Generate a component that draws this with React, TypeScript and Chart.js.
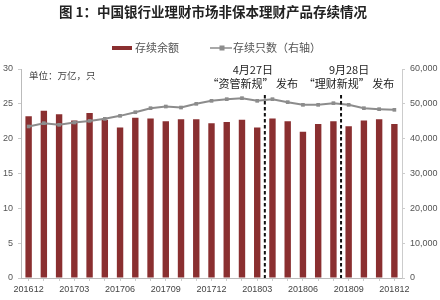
import React, { useEffect, useRef } from "react";
import { Chart, registerables } from "chart.js";

Chart.register(...registerables);

const categories = [
  "201612", "201701", "201702", "201703", "201704", "201705", "201706", "201707", "201708",
  "201709", "201710", "201711", "201712", "201801", "201802", "201803", "201804", "201805",
  "201806", "201807", "201808", "201809", "201810", "201811", "201812",
];
const balance = [
  23.2, 24.0, 23.5, 22.6, 23.7, 22.7, 21.6, 23.0, 22.9, 22.5, 22.8, 22.8, 22.2,
  22.4, 22.7, 21.6, 22.9, 22.5, 21.0, 22.1, 22.5, 21.8, 22.6, 22.8, 22.1,
];
const counts = [
  43500, 44450, 43970, 44630, 45100, 45690, 46550, 47600, 48750, 49230, 48940, 50000, 50860,
  51340, 51630, 50860, 51340, 50480, 49710, 49710, 50190, 49710, 48750, 48470, 48280,
];
const leftTicks = [0, 5, 10, 15, 20, 25, 30];
const rightTicks = [0, 10000, 20000, 30000, 40000, 50000, 60000];
const events = [
  { after: 15, date: "4月27日", text: "“资管新规” 发布", shift: -12 },
  { after: 20, date: "9月28日", text: "“理财新规” 发布", shift: 8 },
];
const title = "图 1：中国银行业理财市场非保本理财产品存续情况";
const seriesNames = ["存续余额", "存续只数（右轴）"];
const unitLabel = "单位：万亿，只";

const BAR = "#8a2f30";
const LINE = "#8c8c8c";
const CJK = '"Noto Sans CJK SC", "Noto Sans", sans-serif';
const LAT = '"Liberation Sans", Arial, sans-serif';

const overlay = {
  id: "overlay",
  afterDatasetsDraw(chart: any) {
    const ctx = chart.ctx;
    const x = chart.scales.x;
    const area = chart.chartArea;
    ctx.save();
    events.forEach((e) => {
      const px = (x.getPixelForValue(e.after) + x.getPixelForValue(e.after + 1)) / 2;
      ctx.beginPath();
      ctx.setLineDash([3.5, 2.5]);
      ctx.lineWidth = 2;
      ctx.strokeStyle = "#111";
      ctx.moveTo(px, 95);
      ctx.lineTo(px, area.bottom);
      ctx.stroke();
      ctx.setLineDash([]);
      ctx.fillStyle = "#222";
      ctx.textAlign = "center";
      ctx.textBaseline = "middle";
      ctx.font = `11px ${CJK}`;
      ctx.fillText(e.date, px + e.shift, 70);
      ctx.fillText(e.text, px + e.shift, 84);
    });
    ctx.restore();
  },
  afterDraw(chart: any) {
    const ctx = chart.ctx;
    ctx.save();
    ctx.textBaseline = "middle";
    ctx.fillStyle = "#222";
    ctx.textAlign = "center";
    ctx.font = `bold 13.5px ${CJK}`;
    ctx.fillText(title, 213, 12);
    ctx.textAlign = "left";
    ctx.font = `11px ${CJK}`;
    ctx.fillStyle = BAR;
    ctx.fillRect(112, 46, 20, 4);
    ctx.fillStyle = "#555";
    ctx.fillText(seriesNames[0], 135, 48);
    ctx.strokeStyle = LINE;
    ctx.lineWidth = 1.5;
    ctx.beginPath();
    ctx.moveTo(210, 48);
    ctx.lineTo(232, 48);
    ctx.stroke();
    ctx.fillStyle = LINE;
    ctx.fillRect(219.5, 45.5, 5, 5);
    ctx.fillStyle = "#555";
    ctx.fillText(seriesNames[1], 233, 48);
    ctx.font = `9.5px ${CJK}`;
    ctx.fillStyle = "#444";
    ctx.fillText(unitLabel, 29, 75);
    ctx.restore();
  },
};

export default function App() {
  const ref = useRef<HTMLCanvasElement | null>(null);
  useEffect(() => {
    if (!ref.current) return;
    const chart = new Chart(ref.current, {
      type: "bar",
      data: {
        labels: categories,
        datasets: [
          {
            type: "line",
            label: seriesNames[1],
            data: counts,
            yAxisID: "y1",
            borderColor: LINE,
            backgroundColor: LINE,
            borderWidth: 2,
            pointStyle: "rect",
            pointRadius: 2.6,
            pointBackgroundColor: LINE,
            pointBorderWidth: 0,
            tension: 0,
            order: 0,
          } as any,
          {
            type: "bar",
            label: seriesNames[0],
            data: balance,
            yAxisID: "y",
            backgroundColor: BAR,
            barPercentage: 0.42,
            categoryPercentage: 1,
            order: 1,
          },
        ],
      },
      plugins: [overlay],
      options: {
        responsive: false,
        animation: false,
        layout: { padding: { top: 69, left: 0, right: 0, bottom: 0 } },
        plugins: {
          legend: { display: false },
          title: { display: false },
          tooltip: { enabled: false },
        },
        scales: {
          x: {
            offset: true,
            grid: { drawOnChartArea: false, drawTicks: true, tickLength: 3, color: "#ccc", offset: false },
            border: { display: true, color: "#bbb" },
            ticks: {
              autoSkip: false,
              maxRotation: 0,
              minRotation: 0,
              padding: 3,
              color: "#444",
              font: { family: LAT, size: 9 },
              callback: (_v: any, i: number) => (i % 3 === 0 ? categories[i] : ""),
            },
            afterFit: (s: any) => { s.height = 22; },
          },
          y: {
            position: "left",
            min: 0,
            max: 30,
            afterBuildTicks: (s: any) => { s.ticks = leftTicks.map((v) => ({ value: v })); },
            grid: { drawOnChartArea: false, drawTicks: true, tickLength: 3, color: "#ccc" },
            border: { display: true, color: "#bbb" },
            ticks: { padding: 5, color: "#555", font: { family: LAT, size: 9 } },
            afterFit: (s: any) => { s.width = 21; },
          },
          y1: {
            position: "right",
            min: 0,
            max: 60000,
            afterBuildTicks: (s: any) => { s.ticks = rightTicks.map((v) => ({ value: v })); },
            grid: { drawOnChartArea: false, drawTicks: true, tickLength: 3, color: "#ccc" },
            border: { display: true, color: "#ccc" },
            ticks: {
              padding: 5,
              color: "#555",
              font: { family: LAT, size: 9 },
              callback: (v: any) => Number(v).toLocaleString("en-US"),
            },
            afterFit: (s: any) => { s.width = 38; },
          },
        },
      },
    });
    return () => chart.destroy();
  }, []);
  return (
    <div style={{ position: "fixed", left: 0, top: 0, width: 440, height: 300, background: "#fff" }}>
      <canvas ref={ref} width={440} height={300} style={{ width: 440, height: 300 }} />
    </div>
  );
}
